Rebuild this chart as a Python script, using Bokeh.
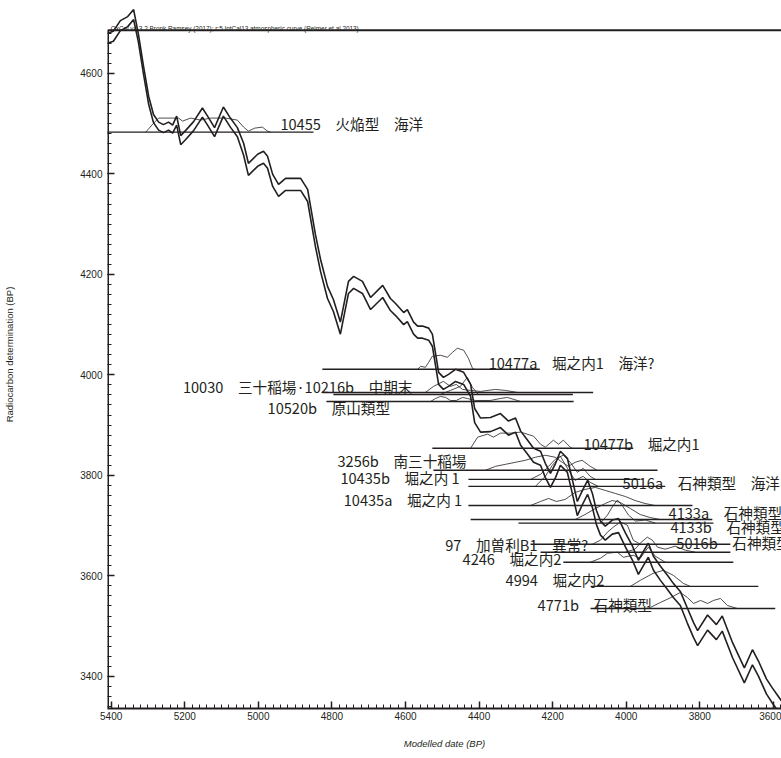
import numpy as np
from bokeh.plotting import figure
from bokeh.models import Range1d, FixedTicker, Label, Span
from bokeh.core.properties import value
from bokeh.embed import file_html
from bokeh.resources import INLINE

# ---- calibration curve (IntCal13, mean and 1 sigma) ----
curve_cal = [5410, 5394, 5375, 5355, 5339, 5326, 5312, 5298, 5285, 5271, 5258, 5244, 5233, 5222,
             5211, 5198, 5176, 5152, 5138, 5119, 5095, 5076, 5057, 5040, 5027, 5002, 4986, 4975,
             4961, 4945, 4926, 4904, 4885, 4866, 4845, 4831, 4812, 4796, 4777, 4755, 4741, 4717,
             4695, 4662, 4641, 4627, 4605, 4595, 4578, 4567, 4554, 4537, 4527, 4518, 4510, 4497,
             4483, 4464, 4442, 4423, 4412, 4396, 4369, 4342, 4320, 4301, 4287, 4268, 4252, 4233,
             4220, 4206, 4192, 4179, 4160, 4146, 4133, 4119, 4105, 4092, 4081, 4070, 4057, 4038,
             4021, 4002, 3983, 3967, 3953, 3940, 3926, 3907, 3888, 3872, 3853, 3834, 3817, 3806,
             3779, 3755, 3739, 3711, 3679, 3657, 3641, 3619, 3603, 3578]
curve_c14 = [4670, 4674, 4695, 4703, 4717, 4670, 4606, 4546, 4510, 4495, 4490, 4495, 4489, 4506,
             4467, 4477, 4495, 4522, 4506, 4483, 4524, 4502, 4483, 4449, 4409, 4427, 4433, 4423,
             4387, 4367, 4379, 4379, 4379, 4357, 4268, 4218, 4164, 4138, 4093, 4174, 4184, 4174,
             4142, 4166, 4140, 4130, 4112, 4118, 4093, 4085, 4085, 4081, 4069, 4029, 3993, 3983,
             3989, 3999, 3993, 3969, 3919, 3900, 3901, 3909, 3894, 3900, 3874, 3856, 3840, 3834,
             3810, 3790, 3810, 3834, 3820, 3776, 3734, 3756, 3776, 3750, 3716, 3695, 3685, 3697,
             3700, 3671, 3645, 3617, 3635, 3651, 3625, 3605, 3587, 3571, 3555, 3521, 3492, 3476,
             3507, 3488, 3505, 3452, 3402, 3438, 3416, 3380, 3362, 3336]
curve_sigma = [10, 10, 10, 10, 10, 8, 8, 8, 8, 8, 8, 8, 8, 9,
               9, 9, 9, 9, 9, 9, 9, 9, 9, 12, 12, 12, 12, 12,
               12, 12, 12, 12, 12, 12, 12, 12, 12, 12, 12, 12, 12, 12,
               12, 12, 12, 12, 12, 12, 12, 12, 12, 12, 12, 12, 12, 12,
               12, 12, 12, 12, 14, 14, 14, 14, 14, 14, 14, 14, 14, 14,
               14, 14, 14, 14, 14, 14, 14, 14, 14, 14, 14, 14, 14, 14,
               14, 14, 14, 14, 14, 14, 14, 14, 14, 14, 14, 15, 15, 15,
               15, 15, 15, 15, 15, 15, 15, 15, 15, 15]

# ---- samples: radiocarbon level and extent of each date's line ----
sample_ids = ["10455", "10477a", "10030", "10216b", "10520b", "10477b", "3256b", "10435b", "5016a",
              "10435a", "4133a", "4133b", "97", "5016b", "4246", "4994", "4771b"]
sample_c14 = [4483, 4011, 3965, 3961, 3947, 3854, 3810, 3792, 3778, 3740, 3712, 3705, 3663, 3647,
              3627, 3579, 3535]
sample_from = [5430, 4826, 4826, 4796, 4815, 4527, 4524, 4429, 4429, 4429, 4423, 4293, 4260, 4233,
               4171, 4097, 4097]
sample_to = [4850, 4235, 4090, 4145, 4143, 3981, 3915, 3962, 3894, 3820, 3766, 3763, 3717, 3717,
             3709, 3641, 3595]

# ---- probability distributions drawn above each line (cal BP, height) ----
dist_cal = {
    "10455": [5306, 5287, 5271, 5217, 5206, 5184, 5157, 5130, 5089, 5057, 5040, 5027, 5010, 4989, 4975, 4967],
    "10477a": [4567, 4559, 4546, 4537, 4527, 4505, 4486, 4472, 4459, 4442, 4429, 4418, 4412],
    "10030": [4546, 4524, 4497, 4478, 4462, 4445, 4423, 4396, 4356, 4328, 4296],
    "10216b": [4505, 4478, 4451, 4432, 4418, 4402],
    "10520b": [4532, 4518, 4505, 4491, 4478, 4462, 4445, 4432, 4410, 4369, 4342, 4323, 4296, 4287],
    "10477b": [4423, 4404, 4377, 4361, 4342, 4315, 4287, 4252, 4233, 4220, 4198, 4184, 4171, 4152, 4147],
    "3256b": [4383, 4355, 4328, 4301, 4274, 4247, 4220, 4193, 4174, 4157, 4139, 4120, 4098, 4079],
    "10435b": [4260, 4233, 4211, 4190, 4171, 4152, 4133, 4117, 4098, 4084],
    "5016a": [4247, 4220, 4201, 4179, 4160, 4139, 4117, 4098, 4076],
    "10435a": [4260, 4233, 4211, 4190, 4166, 4139, 4112, 4084, 4057, 4030, 4003, 3976, 3949, 3922],
    "4133a": [4139, 4112, 4084, 4057, 4038, 4016, 3989, 3962, 3935, 3907],
    "4133b": [4070, 4051, 4038, 4024, 4010, 3994, 3975, 3948, 3921],
    "97": [4092, 4070, 4051, 4035, 4016, 3997, 3981, 3962],
    "5016b": [4003, 3976, 3962, 3943, 3929, 3915, 3894, 3867, 3839, 3812],
    "4246": [4098, 4070, 4051, 4024, 4008, 3981, 3962, 3940, 3921, 3894],
    "4994": [3989, 3962, 3927, 3899, 3872, 3845, 3826],
    "4771b": [3948, 3935, 3907, 3878, 3853, 3834, 3817, 3798, 3779, 3763, 3744, 3725, 3698],
}
dist_height = {
    "10455": [0, 16, 28, 28, 22, 28, 24, 28, 28, 24, 10, 2, 8, 10, 2, 0],
    "10477a": [0, 6, 4, 14, 26, 28, 24, 34, 42, 38, 22, 2, 0],
    "10030": [0, 12, 22, 12, 16, 6, 4, 2, 6, 4, 0],
    "10216b": [0, 8, 16, 34, 14, 0],
    "10520b": [0, 6, 10, 8, 2, 2, 8, 6, 2, 2, 6, 8, 2, 0],
    "10477b": [0, 22, 28, 22, 30, 30, 32, 24, 8, 2, 16, 8, 16, 2, 0],
    "3256b": [0, 8, 12, 16, 20, 26, 30, 26, 16, 8, 16, 20, 8, 0],
    "10435b": [0, 10, 26, 42, 48, 34, 14, 22, 6, 0],
    "5016a": [0, 20, 42, 60, 36, 12, 20, 8, 0],
    "10435a": [0, 8, 14, 8, 12, 26, 32, 36, 30, 24, 18, 10, 4, 0],
    "4133a": [0, 10, 22, 32, 38, 34, 22, 10, 4, 0],
    "4133b": [0, 16, 32, 46, 34, 16, 4, 6, 0],
    "97": [0, 8, 24, 34, 44, 38, 8, 0],
    "5016b": [0, 6, 18, 30, 24, 10, 6, 12, 4, 0],
    "4246": [0, 8, 18, 20, 10, 14, 8, 30, 12, 0],
    "4994": [0, 12, 26, 32, 22, 6, 0],
    "4771b": [0, 2, 12, 22, 32, 22, 10, 16, 10, 16, 20, 6, 0],
}

# ---- labels ----
label_text = ["10455　火焔型　海洋", "10477a　堀之内1　海洋?", "10030　三十稲場·10216b　中期末",
              "10520b　原山類型", "10477b　堀之内1", "3256b　南三十稲場", "10435b　堀之内 1",
              "5016a　石神類型　海洋", "10435a　堀之内 1", "4133a　石神類型", "4133b　石神類型",
              "5016b　石神類型", "97　加曽利B1　異常?", "4246　堀之内2", "4994　堀之内2",
              "4771b　石神類型"]
label_cal = [4940, 4374, 5205, 4975, 4116, 4785, 4777, 4010, 4768, 3885, 3880, 3864, 4492, 4445,
             4328, 4241]
label_c14 = [4500, 4025, 3977, 3935, 3864, 3830, 3796, 3786, 3752, 3726, 3698, 3667, 3663, 3635,
             3593, 3543]

x_major = [5400, 5200, 5000, 4800, 4600, 4400, 4200, 4000, 3800, 3600]
y_major = [3400, 3600, 3800, 4000, 4200, 4400, 4600]

INK = "#231f20"
X_LEFT, X_RIGHT = 5410, 3578
Y_BOTTOM, Y_TOP, Y_FRAME = 3336, 4745, 4686

p = figure(width=781, height=758, x_range=Range1d(X_LEFT, X_RIGHT), y_range=Range1d(Y_BOTTOM, Y_TOP),
           output_backend="svg", toolbar_location=None,
           min_border_left=107, min_border_right=0, min_border_top=0, min_border_bottom=50)
p.outline_line_color = None
p.grid.visible = False
p.background_fill_color = "white"

# axes
p.xaxis.ticker = FixedTicker(ticks=x_major, minor_ticks=list(range(3580, 5401, 20)))
p.yaxis.ticker = FixedTicker(ticks=y_major, minor_ticks=list(range(3340, 4681, 20)))
for ax in (p.xaxis[0], p.yaxis[0]):
    ax.major_tick_in = 7
    ax.major_tick_out = 0
    ax.minor_tick_in = 4
    ax.minor_tick_out = 0
    ax.major_tick_line_color = INK
    ax.minor_tick_line_color = INK
    ax.major_tick_line_width = 1.5
    ax.minor_tick_line_width = 1
    ax.major_label_text_font = "Liberation Sans"
    ax.major_label_text_font_size = "10px"
    ax.major_label_text_color = INK
    ax.axis_label_text_font = "Liberation Sans"
    ax.axis_label_text_font_size = "9.5px"
    ax.axis_label_text_color = INK
    ax.axis_label_text_font_style = "normal"

p.xaxis.axis_line_width = 2
p.xaxis.axis_line_color = INK
p.xaxis.major_label_standoff = 3
p.xaxis.axis_label = "Modelled date (BP)"
p.xaxis.axis_label_text_font_style = "italic"
p.xaxis.axis_label_standoff = 15

p.yaxis.axis_line_color = None
p.yaxis.major_label_standoff = 5
p.yaxis.major_label_orientation = "horizontal"
p.yaxis.axis_label = "Radiocarbon determination (BP)"
p.yaxis.axis_label_standoff = 62

# frame lines: left border up to the top line, top line
p.segment(x0=[5408.6], y0=[Y_BOTTOM], x1=[5408.6], y1=[Y_FRAME], line_color=INK, line_width=2)
p.add_layout(Span(location=Y_FRAME, dimension="width", line_color=INK, line_width=2))

# calibration curve (two lines, +/- 1 sigma)
cal = np.array(curve_cal, dtype=float)
mean = np.array(curve_c14, dtype=float)
sig = np.array(curve_sigma, dtype=float)
p.line(cal, mean + sig, line_color=INK, line_width=1.6)
p.line(cal, mean - sig, line_color=INK, line_width=1.6)

# date lines
p.segment(x0=sample_from, y0=sample_c14, x1=sample_to, y1=sample_c14, line_color=INK, line_width=1.4)

# distributions
for sid, base in zip(sample_ids, sample_c14):
    xs = dist_cal[sid]
    ys = [base + h for h in dist_height[sid]]
    p.line(xs, ys, line_color=INK, line_width=0.8)

# labels
p.text(x=label_cal, y=label_c14, text=label_text, text_font=value("Noto Sans CJK JP"),
       text_font_size="14.6px", text_baseline="middle", text_align="left", text_color=INK)

# header
p.add_layout(Label(x=5401, y=4689, text="OxCal v4.3.2 Bronk Ramsey (2017); r:5 IntCal13 atmospheric curve (Reimer et al 2013)",
                   text_font="Liberation Sans", text_font_size="6.4px", text_color=INK,
                   text_baseline="alphabetic"))

open("out.html", "w").write(file_html(p, INLINE))
